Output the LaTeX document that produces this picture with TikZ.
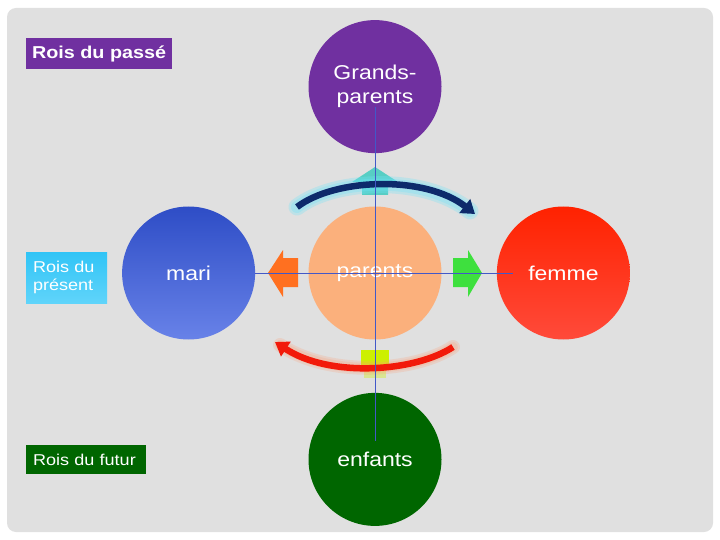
\documentclass[tikz,border=0pt]{standalone}
\usepackage{fontspec}
\newfontfamily\slidefont[FakeStretch=1.15]{Liberation Sans}
\usetikzlibrary{positioning,arrows.meta,shapes.geometric}
\definecolor{panelgray}{HTML}{E0E0E0}
\definecolor{royalpurple}{HTML}{7030A0}
\definecolor{peach}{HTML}{FBB07C}
\definecolor{kidgreen}{HTML}{006600}
\definecolor{navyarc}{HTML}{0D2A6B}
\definecolor{glowcyan}{HTML}{70E4F8}
\definecolor{glowpeach}{HTML}{FF9A70}
\definecolor{arcred}{HTML}{F21A0A}
\definecolor{tealtip}{HTML}{40CCC0}
\definecolor{limesq}{HTML}{CCF000}
\definecolor{leftorange}{HTML}{FF7020}
\definecolor{rightgreen}{HTML}{3EE03E}
\definecolor{crossblue}{HTML}{4258C8}
\definecolor{maritop}{HTML}{2E4DC6}
\definecolor{maribot}{HTML}{6882E8}
\definecolor{femmetop}{HTML}{FF2200}
\definecolor{femmebot}{HTML}{FF4A3A}
\definecolor{presenttop}{HTML}{30C4F6}
\definecolor{presentbot}{HTML}{60D4FA}
\tikzset{
    every node/.style={font=\slidefont},
    family/.style={circle,minimum size=133pt,inner sep=0pt,text=white,align=center,
        font=\slidefont\fontsize{20}{24}\selectfont},
    kinglabel/.style={anchor=north west,text=white,inner xsep=7pt,inner ysep=0pt,outer sep=0pt,
        font=\slidefont\fontsize{15.7}{18.5}\selectfont,align=left},
    crossline/.style={draw=crossblue,line width=1pt},
    glowline/.style={line width=#1,line cap=round,opacity=0.3},
    bigarc/.style={line width=6.5pt,-{Triangle[length=13pt,width=17pt]}}
}

\begin{document}
\begin{tikzpicture}[x=1pt,y=-1pt,node distance=53pt]
\useasboundingbox (0,0) rectangle (720,540);
\fill[white] (0,0) rectangle (720,540);
\fill[panelgray,rounded corners=9pt] (7,8) rectangle (713,532);

% small arrows behind the arcs
\fill[tealtip,opacity=0.85] (375,167) -- (398,182) -- (388,182) -- (388,195)
    -- (362,195) -- (362,182) -- (352,182) -- cycle;
\fill[limesq,opacity=0.35] (364,365) rectangle (386,378);
\fill[limesq] (361,350) rectangle (389,365);
\fill[leftorange] (298,258) -- (283,258) -- (283,250) -- (268,273) -- (283,297)
    -- (283,287) -- (298,287) -- cycle;
\fill[rightgreen] (453,258) -- (468,258) -- (468,250) -- (482,273) -- (468,297)
    -- (468,287) -- (453,287) -- cycle;

% arcs with glow
\draw[glowcyan,glowline=17pt] (297,207) .. controls (335,178) and (425,175) .. (470,211);
\draw[glowcyan,glowline=12pt] (297,207) .. controls (335,178) and (425,175) .. (470,211);
\draw[navyarc,bigarc] (297,207) .. controls (335,178) and (425,175) .. (475,214);
\draw[glowpeach,glowline=14pt,opacity=0.22] (453,347) .. controls (415,372) and (330,378) .. (280,345);
\draw[glowpeach,glowline=10pt,opacity=0.22] (453,347) .. controls (415,372) and (330,378) .. (280,345);
\draw[arcred,bigarc] (453,347) .. controls (415,372) and (330,378) .. (275,342);

% family circles
\node[family,fill=peach] (par) at (375,273) {parents};
\node[family,fill=royalpurple,above=53pt of par] (gpar) {Grands-\\parents};
\node[family,below=53pt of par,fill=kidgreen] (kids) {enfants};
\node[family,left=53pt of par,top color=maritop,bottom color=maribot] (mari) {mari};
\node[family,right=55pt of par,top color=femmetop,bottom color=femmebot] (femme) {femme};

% cross lines
\coordinate (hend) at (513,273);
\coordinate (vtop) at (375,107);
\coordinate (vbot) at (375,441);
\draw[crossline] (mari.east) -- (hend);
\draw[crossline] (vtop) -- (vbot);

% kings
\node[kinglabel,fill=royalpurple,inner xsep=6pt,minimum height=31pt,
    font=\slidefont\bfseries\fontsize{17.2}{20}\selectfont] (passe) at (26,38) {Rois du passé};
\node[kinglabel,top color=presenttop,bottom color=presentbot,text width=67pt,minimum height=51pt]
    (present) at (26,252) {Rois du\\présent};
\node[kinglabel,fill=kidgreen,text width=106pt,minimum height=29pt]
    (futur) at (26,445) {Rois du futur};
\end{tikzpicture}
\end{document}
